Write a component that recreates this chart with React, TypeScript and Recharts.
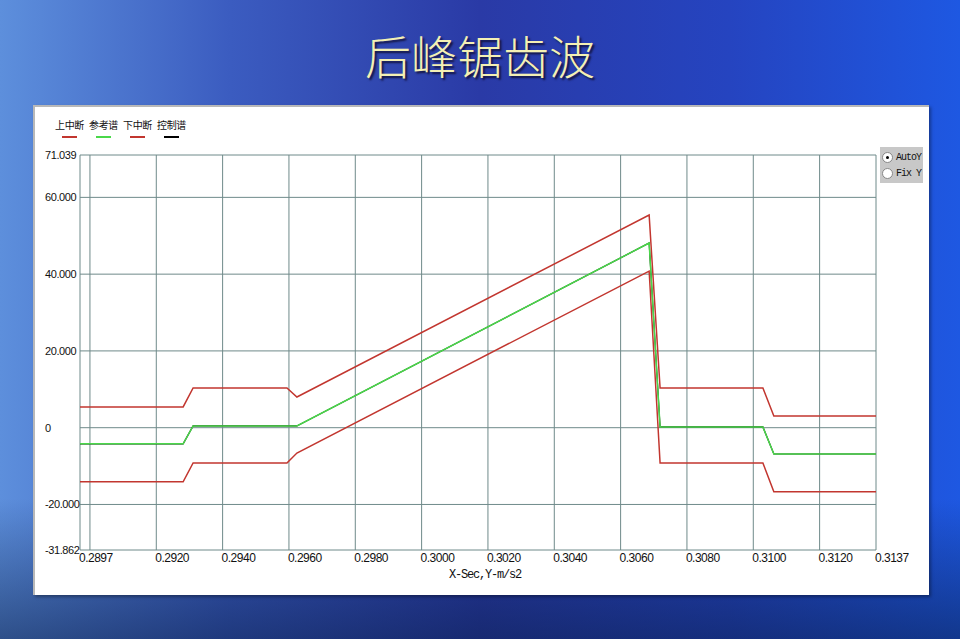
import React from 'react';
import { LineChart, Line, XAxis, YAxis, ReferenceLine, Label } from 'recharts';

// time stamps (s) of the profile breakpoints
const times = [0.2897, 0.29281, 0.29311, 0.29594, 0.29624, 0.30686, 0.30719, 0.31029, 0.31062, 0.3137];
// m/s2
const upperAbort = [5.4, 5.4, 10.35, 10.35, 8.0, 55.4, 10.35, 10.35, 3.05, 3.05];
const reference = [-4.2, -4.2, 0.45, 0.45, 0.45, 48.1, 0.2, 0.2, -6.85, -6.85];
const lowerAbort = [-14.1, -14.1, -9.2, -9.2, -6.6, 40.8, -9.2, -9.2, -16.7, -16.7];
const control = [-4.2, -4.2, 0.45, 0.45, 0.45, 48.1, 0.2, 0.2, -6.85, -6.85];

const xTicks = [0.2897, 0.292, 0.294, 0.296, 0.298, 0.3, 0.302, 0.304, 0.306, 0.308, 0.31, 0.312, 0.3137];
const xGrid = [0.29, 0.292, 0.294, 0.296, 0.298, 0.3, 0.302, 0.304, 0.306, 0.308, 0.31, 0.312];
const yTicks = [71.039, 60, 40, 20, 0, -20, -31.862];
const yGrid = [60, 40, 20, 0, -20];

const X_MIN = 0.2897;
const X_MAX = 0.3137;
const Y_MIN = -31.862;
const Y_MAX = 71.039;

const RED = '#c2362f';
const GREEN = '#4ad84a';
const GRID = '#6f8a8a';

const series = [
  { key: 'upper', name: '上中断', color: RED },
  { key: 'ref', name: '参考谱', color: GREEN },
  { key: 'lower', name: '下中断', color: RED },
  { key: 'control', name: '控制谱', color: '#000000' },
];

const data = times.map((t, i) => ({
  t,
  upper: upperAbort[i],
  ref: reference[i],
  lower: lowerAbort[i],
  control: control[i],
}));

const tickFont = '"Liberation Sans Narrow", "Arial Narrow", "Liberation Sans", sans-serif';
const monoFont = '"Liberation Mono", "DejaVu Sans Mono", monospace';

const YTick = ({ y, payload }: any) => (
  <text x={45} y={y + 4} textAnchor="start" fontSize={11} fill="#111" fontFamily={tickFont} letterSpacing={-0.4}>
    {payload.value === 0 ? '0' : Number(payload.value).toFixed(3)}
  </text>
);

const XTick = ({ x, y, payload }: any) => (
  <text x={x - 1} y={y + 4} textAnchor="start" fontSize={12} fill="#111" fontFamily={tickFont} letterSpacing={-0.5}>
    {Number(payload.value).toFixed(4)}
  </text>
);

const LegendBox = () => (
  <div style={{ position: 'absolute', left: 54, top: 118, width: 140, height: 22 }}>
    {series.map((s, i) => (
      <div key={s.key}>
        <div
          style={{
            position: 'absolute', left: i * 34, top: 0, width: 31, textAlign: 'center', whiteSpace: 'nowrap',
            fontSize: 10, lineHeight: '14px', letterSpacing: -0.3, color: '#111', fontFamily: '"Noto Sans CJK SC", sans-serif',
          }}
        >
          {s.name}
        </div>
        <div style={{ position: 'absolute', left: i * 34 + 8, top: 18, width: 15, height: 1.5, background: s.color }} />
      </div>
    ))}
  </div>
);

const Radio = ({ checked, label, top }: { checked: boolean; label: string; top: number }) => (
  <div style={{ position: 'absolute', left: 2, top, height: 14, display: 'flex', alignItems: 'center' }}>
    <div
      style={{
        width: 9, height: 9, borderRadius: '50%', background: '#fff', border: '1px solid #888',
        display: 'flex', alignItems: 'center', justifyContent: 'center',
      }}
    >
      {checked && <div style={{ width: 3, height: 3, borderRadius: '50%', background: '#000' }} />}
    </div>
    <span style={{ marginLeft: 3, fontFamily: monoFont, fontSize: 10, letterSpacing: -1, color: '#111' }}>{label}</span>
  </div>
);

export default function App() {
  return (
    <div
      style={{
        position: 'absolute', left: 0, top: 0, width: 960, height: 639, overflow: 'hidden',
        background:
          'linear-gradient(180deg, rgba(0,0,0,0) 78%, rgba(8,28,70,0.55) 100%), linear-gradient(90deg, #5d8fdc 0%, #3b5cc0 24%, #2a3aa6 50%, #2544c0 76%, #1e58e2 100%)',
      }}
    >
      <div
        style={{
          position: 'absolute', top: 30, left: 0, width: 960, textAlign: 'center', fontSize: 46, lineHeight: '48px',
          color: '#f4f0b4', fontFamily: '"Noto Sans CJK SC", sans-serif', fontWeight: 300, textShadow: '2px 2px 2px #141440',
        }}
      >
        后峰锯齿波
      </div>

      <div
        style={{
          position: 'absolute', left: 33, top: 105, width: 894, height: 488, background: '#ffffff',
          borderTop: '2px solid #b8b8b8', borderLeft: '2px solid #b8b8b8', boxShadow: '2px 2px 3px rgba(0,0,0,0.35)',
        }}
      />

      <LegendBox />

      <div style={{ position: 'absolute', left: 0, top: 0 }}>
        <LineChart width={960} height={639} data={data} margin={{ top: 155, right: 84, bottom: 49, left: 40 }}>
          <XAxis
            dataKey="t"
            type="number"
            domain={[X_MIN, X_MAX]}
            ticks={xTicks}
            interval={0}
            axisLine={false}
            tickLine={false}
            height={40}
            tick={<XTick />}
          >
            <Label
              content={({ viewBox }: any) => (
                <text
                  x={viewBox.x + viewBox.width / 2 + 7}
                  y={viewBox.y + 28}
                  textAnchor="middle"
                  fontSize={12}
                  letterSpacing={-1.2}
                  fill="#111"
                  fontFamily={monoFont}
                >
                  X-Sec,Y-m/s2
                </text>
              )}
            />
          </XAxis>
          <YAxis
            type="number"
            domain={[Y_MIN, Y_MAX]}
            ticks={yTicks}
            interval={0}
            allowDataOverflow
            axisLine={false}
            tickLine={false}
            width={40}
            tick={<YTick />}
          />
          {xGrid.map((v) => (
            <ReferenceLine key={`gx${v}`} x={v} stroke={GRID} strokeWidth={1} />
          ))}
          {yGrid.map((v) => (
            <ReferenceLine key={`gy${v}`} y={v} stroke={GRID} strokeWidth={1} />
          ))}
          <ReferenceLine x={X_MIN} stroke={GRID} strokeWidth={1} />
          <ReferenceLine x={X_MAX} stroke={GRID} strokeWidth={1} />
          <ReferenceLine y={Y_MAX} stroke={GRID} strokeWidth={1} />
          <ReferenceLine y={Y_MIN} stroke={GRID} strokeWidth={1} />
          <Line dataKey="control" name="控制谱" type="linear" stroke="#000000" strokeWidth={1.2} dot={false} isAnimationActive={false} />
          <Line dataKey="upper" name="上中断" type="linear" stroke={RED} strokeWidth={1.5} dot={false} isAnimationActive={false} />
          <Line dataKey="lower" name="下中断" type="linear" stroke={RED} strokeWidth={1.5} dot={false} isAnimationActive={false} />
          <Line dataKey="ref" name="参考谱" type="linear" stroke={GREEN} strokeWidth={1.5} dot={false} isAnimationActive={false} />
        </LineChart>
      </div>

      <div style={{ position: 'absolute', left: 880, top: 147, width: 43, height: 36, background: '#c8c8c8' }}>
        <Radio checked label="AutoY" top={3} />
        <Radio checked={false} label="Fix Y" top={19} />
      </div>
    </div>
  );
}
